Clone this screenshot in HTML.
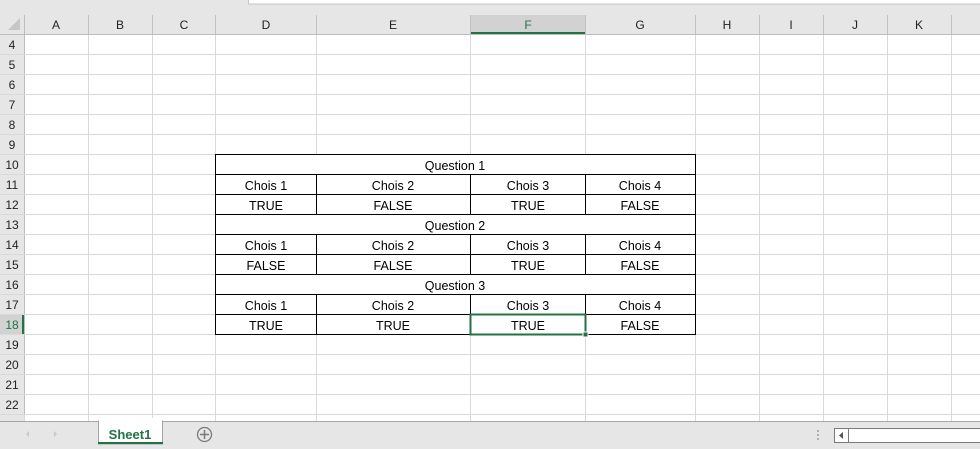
<!DOCTYPE html>
<html><head><meta charset="utf-8"><style>
html,body{margin:0;padding:0;background:#fff;width:980px;height:449px;overflow:hidden}
svg{display:block}
text{font-family:"Liberation Sans",sans-serif}
</style></head><body>
<svg width="980" height="449" viewBox="0 0 980 449" xmlns="http://www.w3.org/2000/svg">
<rect x="0" y="0" width="980" height="34" fill="#e6e6e6"/>
<rect x="248.5" y="-1" width="740" height="5" fill="#fff" stroke="#c6c6c6"/>
<rect x="470" y="15" width="115" height="19" fill="#d2d2d2"/>
<rect x="470" y="32" width="115" height="2" fill="#217346"/>
<rect x="0" y="34" width="24" height="386" fill="#e6e6e6"/>
<rect x="0" y="314" width="24" height="20" fill="#d2d2d2"/>
<rect x="22" y="314" width="2" height="20" fill="#217346"/>
<polygon points="20,18 20,30 8,30" fill="#c6c6c6"/>
<g stroke="#bdbdbd" stroke-width="1">
<line x1="24.5" y1="15" x2="24.5" y2="420"/>
<line x1="0" y1="34.5" x2="980" y2="34.5"/>
</g>
<g stroke="#c0c0c0">
<line x1="88.5" y1="15" x2="88.5" y2="34"/><line x1="152.5" y1="15" x2="152.5" y2="34"/>
<line x1="215.5" y1="15" x2="215.5" y2="34"/><line x1="316.5" y1="15" x2="316.5" y2="34"/>
<line x1="470.5" y1="15" x2="470.5" y2="34"/><line x1="585.5" y1="15" x2="585.5" y2="34"/>
<line x1="695.5" y1="15" x2="695.5" y2="34"/><line x1="759.5" y1="15" x2="759.5" y2="34"/>
<line x1="823.5" y1="15" x2="823.5" y2="34"/><line x1="887.5" y1="15" x2="887.5" y2="34"/>
<line x1="951.5" y1="15" x2="951.5" y2="34"/>
</g>
<g stroke="#d9d9d9">
<line x1="88.5" y1="35" x2="88.5" y2="420"/><line x1="152.5" y1="35" x2="152.5" y2="420"/>
<line x1="215.5" y1="35" x2="215.5" y2="420"/><line x1="316.5" y1="35" x2="316.5" y2="420"/>
<line x1="470.5" y1="35" x2="470.5" y2="420"/><line x1="585.5" y1="35" x2="585.5" y2="420"/>
<line x1="695.5" y1="35" x2="695.5" y2="420"/><line x1="759.5" y1="35" x2="759.5" y2="420"/>
<line x1="823.5" y1="35" x2="823.5" y2="420"/><line x1="887.5" y1="35" x2="887.5" y2="420"/>
<line x1="951.5" y1="35" x2="951.5" y2="420"/>
<line x1="0" y1="54.5" x2="980" y2="54.5"/><line x1="0" y1="74.5" x2="980" y2="74.5"/>
<line x1="0" y1="94.5" x2="980" y2="94.5"/><line x1="0" y1="114.5" x2="980" y2="114.5"/>
<line x1="0" y1="134.5" x2="980" y2="134.5"/><line x1="0" y1="154.5" x2="980" y2="154.5"/>
<line x1="0" y1="174.5" x2="980" y2="174.5"/><line x1="0" y1="194.5" x2="980" y2="194.5"/>
<line x1="0" y1="214.5" x2="980" y2="214.5"/><line x1="0" y1="234.5" x2="980" y2="234.5"/>
<line x1="0" y1="254.5" x2="980" y2="254.5"/><line x1="0" y1="274.5" x2="980" y2="274.5"/>
<line x1="0" y1="294.5" x2="980" y2="294.5"/><line x1="0" y1="314.5" x2="980" y2="314.5"/>
<line x1="0" y1="334.5" x2="980" y2="334.5"/><line x1="0" y1="354.5" x2="980" y2="354.5"/>
<line x1="0" y1="374.5" x2="980" y2="374.5"/><line x1="0" y1="394.5" x2="980" y2="394.5"/>
<line x1="0" y1="414.5" x2="980" y2="414.5"/>
</g>
<g font-size="12" fill="#222" text-anchor="middle">
<text x="56" y="29">A</text><text x="120" y="29">B</text><text x="184" y="29">C</text>
<text x="266" y="29">D</text><text x="393" y="29">E</text><text x="528" y="29" fill="#217346">F</text>
<text x="640" y="29">G</text><text x="727" y="29">H</text><text x="791" y="29">I</text>
<text x="855" y="29">J</text><text x="919" y="29">K</text>
</g>
<g font-size="12" fill="#222" text-anchor="middle">
<text x="12" y="49">4</text><text x="12" y="69">5</text><text x="12" y="89">6</text>
<text x="12" y="109">7</text><text x="12" y="129">8</text><text x="12" y="149">9</text>
<text x="12" y="169">10</text><text x="12" y="189">11</text><text x="12" y="209">12</text>
<text x="12" y="229">13</text><text x="12" y="249">14</text><text x="12" y="269">15</text>
<text x="12" y="289">16</text><text x="12" y="309">17</text><text x="12" y="329" fill="#217346">18</text>
<text x="12" y="349">19</text><text x="12" y="369">20</text><text x="12" y="389">21</text>
<text x="12" y="409">22</text>
</g>
<rect x="215" y="154" width="481" height="181" fill="#fff"/>
<g stroke="#000" stroke-width="1">
<line x1="215.5" y1="154" x2="215.5" y2="335"/><line x1="695.5" y1="154" x2="695.5" y2="335"/>
<line x1="215" y1="154.5" x2="696" y2="154.5"/><line x1="215" y1="174.5" x2="696" y2="174.5"/>
<line x1="215" y1="194.5" x2="696" y2="194.5"/><line x1="215" y1="214.5" x2="696" y2="214.5"/>
<line x1="215" y1="234.5" x2="696" y2="234.5"/><line x1="215" y1="254.5" x2="696" y2="254.5"/>
<line x1="215" y1="274.5" x2="696" y2="274.5"/><line x1="215" y1="294.5" x2="696" y2="294.5"/>
<line x1="215" y1="314.5" x2="696" y2="314.5"/><line x1="215" y1="334.5" x2="696" y2="334.5"/>
<line x1="316.5" y1="174" x2="316.5" y2="215"/><line x1="470.5" y1="174" x2="470.5" y2="215"/><line x1="585.5" y1="174" x2="585.5" y2="215"/>
<line x1="316.5" y1="234" x2="316.5" y2="275"/><line x1="470.5" y1="234" x2="470.5" y2="275"/><line x1="585.5" y1="234" x2="585.5" y2="275"/>
<line x1="316.5" y1="294" x2="316.5" y2="335"/><line x1="470.5" y1="294" x2="470.5" y2="335"/><line x1="585.5" y1="294" x2="585.5" y2="335"/>
</g>
<g font-size="12.5" fill="#000" text-anchor="middle" transform="translate(0,1)">
<text x="455" y="169">Question 1</text>
<text x="266" y="189">Chois 1</text><text x="393" y="189">Chois 2</text><text x="528" y="189">Chois 3</text><text x="640" y="189">Chois 4</text>
<text x="266" y="209">TRUE</text><text x="393" y="209">FALSE</text><text x="528" y="209">TRUE</text><text x="640" y="209">FALSE</text>
<text x="455" y="229">Question 2</text>
<text x="266" y="249">Chois 1</text><text x="393" y="249">Chois 2</text><text x="528" y="249">Chois 3</text><text x="640" y="249">Chois 4</text>
<text x="266" y="269">FALSE</text><text x="393" y="269">FALSE</text><text x="528" y="269">TRUE</text><text x="640" y="269">FALSE</text>
<text x="455" y="289">Question 3</text>
<text x="266" y="309">Chois 1</text><text x="393" y="309">Chois 2</text><text x="528" y="309">Chois 3</text><text x="640" y="309">Chois 4</text>
<text x="266" y="329">TRUE</text><text x="393" y="329">TRUE</text><text x="528" y="329">TRUE</text><text x="640" y="329">FALSE</text>
</g>
<rect x="470.5" y="314.5" width="115" height="20" fill="none" stroke="#217346" stroke-width="2"/>
<rect x="583" y="332" width="5" height="5" fill="#217346" stroke="#fff" stroke-width="1"/>
<rect x="0" y="415" width="980" height="6" fill="#fff"/>
<g stroke="#d9d9d9">
<line x1="24.5" y1="415" x2="24.5" y2="421"/><line x1="88.5" y1="415" x2="88.5" y2="421"/>
<line x1="152.5" y1="415" x2="152.5" y2="421"/><line x1="215.5" y1="415" x2="215.5" y2="421"/>
<line x1="316.5" y1="415" x2="316.5" y2="421"/><line x1="470.5" y1="415" x2="470.5" y2="421"/>
<line x1="585.5" y1="415" x2="585.5" y2="421"/><line x1="695.5" y1="415" x2="695.5" y2="421"/>
<line x1="759.5" y1="415" x2="759.5" y2="421"/><line x1="823.5" y1="415" x2="823.5" y2="421"/>
<line x1="887.5" y1="415" x2="887.5" y2="421"/><line x1="951.5" y1="415" x2="951.5" y2="421"/>
</g>
<rect x="0" y="415" width="24" height="6" fill="#e6e6e6"/>
<rect x="0" y="421" width="980" height="28" fill="#e6e6e6"/>
<line x1="0" y1="421.5" x2="980" y2="421.5" stroke="#a6a6a6"/>
<polygon points="29,431 26,434 29,437" fill="#c8c8c8"/>
<polygon points="54,431 57,434 54,437" fill="#c8c8c8"/>
<rect x="98.5" y="421" width="64" height="23" fill="#fff" stroke="#a6a6a6"/>
<rect x="99" y="418" width="63" height="4" fill="#fff"/>
<rect x="98" y="442" width="65" height="2" fill="#217346"/>
<text x="130" y="439" font-size="13" font-weight="bold" fill="#217346" text-anchor="middle">Sheet1</text>
<circle cx="204.5" cy="434.5" r="7" fill="none" stroke="#7a7a7a" stroke-width="1.3"/>
<line x1="200" y1="434.5" x2="209" y2="434.5" stroke="#7a7a7a" stroke-width="1.5"/>
<line x1="204.5" y1="430" x2="204.5" y2="439" stroke="#7a7a7a" stroke-width="1.5"/>
<g fill="#b0b0b0"><rect x="817" y="430" width="2" height="2"/><rect x="817" y="434" width="2" height="2"/><rect x="817" y="438" width="2" height="2"/></g>
<rect x="834.5" y="428.5" width="150" height="14" fill="#fff" stroke="#7a7a7a"/>
<line x1="848.5" y1="428" x2="848.5" y2="443" stroke="#7a7a7a"/>
<polygon points="843,432 839,435.5 843,439" fill="#555"/>
</svg>
</body></html>
